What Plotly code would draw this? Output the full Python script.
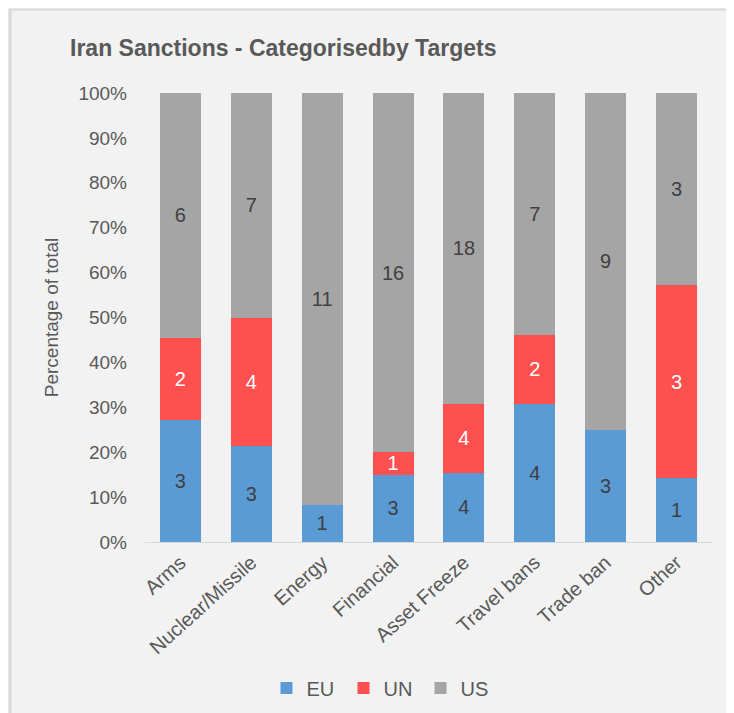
import plotly.graph_objects as go

categories = ["Arms", "Nuclear/Missile", "Energy", "Financial", "Asset Freeze",
              "Travel bans", "Trade ban", "Other"]
eu = [3, 3, 1, 3, 4, 4, 3, 1]
un = [2, 4, 0, 1, 4, 2, 0, 3]
us = [6, 7, 11, 16, 18, 7, 9, 3]

# page body adds an 8px margin; the figure fills the rest of the window
W, H = 726, 705
L, R, T, B = 137, 22, 85, 171
FONT = "Liberation Sans, Arial, sans-serif"


def lbl(vals):
    return [str(v) if v else "" for v in vals]


fig = go.Figure()
series = [("EU", eu, "#5b9bd5", "#404040"),
          ("UN", un, "#ff5050", "#ffffff"),
          ("US", us, "#a5a5a5", "#404040")]
for name, vals, col, tcol in series:
    fig.add_trace(go.Bar(
        name=name, x=categories, y=vals,
        marker=dict(color=col, line=dict(width=0)),
        text=lbl(vals), textposition="inside", insidetextanchor="middle",
        textangle=0, constraintext="none",
        textfont=dict(family=FONT, size=20, color=tcol),
        hoverinfo="x+y+name",
    ))

pw = W - L - R
ph = H - T - B


def px_x(p):
    return (p - L) / pw


def px_y(p):
    return (H - B - p) / ph


fig.update_layout(
    width=W, height=H,
    barmode="stack", barnorm="fraction", bargap=0.42,
    paper_bgcolor="#f2f2f2", plot_bgcolor="rgba(0,0,0,0)",
    margin=dict(l=L, r=R, t=T, b=B, autoexpand=False),
    font=dict(family=FONT, color="#595959"),
    title=dict(text="<b>Iran Sanctions - Categorisedby Targets</b>",
               x=62 / W, xref="container", xanchor="left",
               y=1 - 40 / H, yref="container", yanchor="middle",
               font=dict(size=23, color="#595959")),
    xaxis=dict(showgrid=False, showline=True, linecolor="#d9d9d9", linewidth=1,
               tickangle=-42, tickfont=dict(size=20, color="#595959"),
               ticks="", zeroline=False),
    yaxis=dict(range=[0, 1], tickformat=".0%", dtick=0.1, showgrid=False,
               showline=False, zeroline=False, ticks="",
               ticklabelstandoff=17,
               tickfont=dict(size=19, color="#595959"),
               title=dict(text="Percentage of total", standoff=14,
                          font=dict(size=19, color="#595959"))),
    legend=dict(orientation="h", x=374 / W, xref="container",
                xanchor="center", y=1 - 680 / H, yref="container", yanchor="middle",
                font=dict(size=20, color="#595959"), bgcolor="rgba(0,0,0,0)",
                entrywidth=32, entrywidthmode="pixels",
                traceorder="normal"),
    shapes=[
        dict(type="line", xref="paper", yref="paper", layer="below",
             x0=px_x(2), x1=px_x(2), y0=px_y(H + 5), y1=px_y(1),
             line=dict(color="#d9d9d9", width=3)),
        dict(type="line", xref="paper", yref="paper", layer="below",
             x0=px_x(1), x1=px_x(W + 5), y0=px_y(1.5), y1=px_y(1.5),
             line=dict(color="#d9d9d9", width=2)),
    ],
)

fig.write_html("out.html")
